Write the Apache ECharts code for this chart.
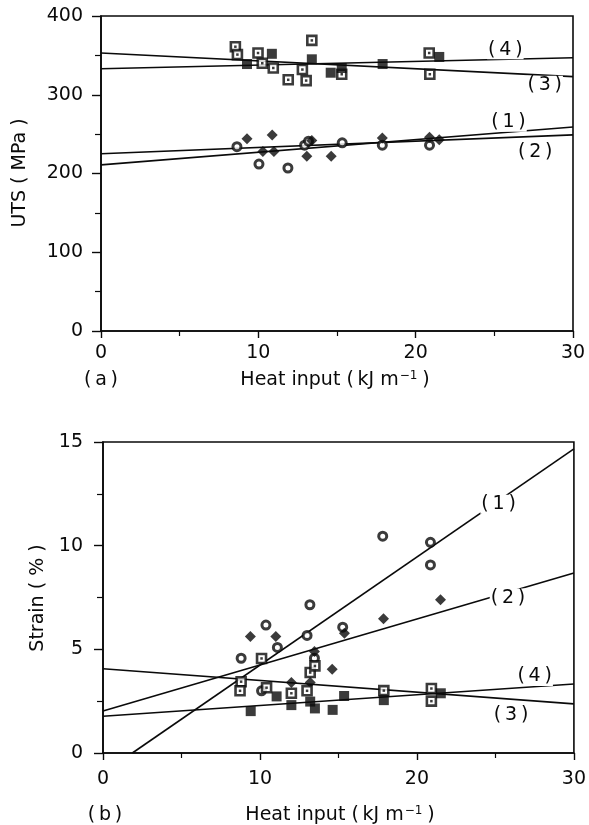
<!DOCTYPE html>
<html>
<head>
<meta charset="utf-8">
<script src="https://cdn.jsdelivr.net/npm/echarts@6/dist/echarts.min.js"></script>
<style>
html,body{margin:0;padding:0;background:#fff;}
#c{width:589px;height:825px;}
</style>
</head>
<body>
<div id="c"></div>
<script>
// ---------- Panel (a): UTS vs heat input ----------
const utsOpenCircle = [[8.64,234],[10.04,212],[11.88,207],[12.94,236],[13.19,241],[15.33,239],[17.88,236],[20.88,236]];
const utsFilledDiamond = [[9.28,244],[10.29,228],[10.88,249],[10.99,228],[13.08,222],[13.4,242],[14.63,222],[17.88,245],[20.88,246],[21.5,243]];
const utsOpenSquare = [[8.54,361],[8.67,351],[9.98,353],[10.25,340],[10.95,334],[11.9,319],[12.8,332],[13.04,318],[13.4,369],[15.3,326],[20.86,353],[20.9,326]];
const utsFilledSquare = [[9.28,339],[10.86,352],[13.4,345],[14.6,328],[15.3,334],[17.9,339],[21.5,348]];
const utsLine1 = [[0,211],[30,259]];
const utsLine2 = [[0,225],[30,249]];
const utsLine3 = [[0,353],[30,323]];
const utsLine4 = [[0,333],[30,347]];
const utsLabels = [[25.9,265,'(\u20091\u2009)'],[27.6,227,'(\u20092\u2009)'],[28.2,312,'(\u20093\u2009)'],[25.7,357,'(\u20094\u2009)']];

// ---------- Panel (b): Strain vs heat input ----------
const strOpenCircle = [[8.8,4.57],[10.1,3.0],[10.38,6.17],[11.11,5.09],[13.0,5.67],[13.18,7.15],[13.47,4.57],[15.27,6.07],[17.82,10.46],[20.86,10.16],[20.86,9.07]];
const strFilledDiamond = [[9.39,5.62],[11.01,5.62],[12.0,3.40],[13.2,3.40],[13.47,4.89],[14.6,4.04],[15.38,5.78],[17.87,6.47],[21.5,7.39]];
const strOpenSquare = [[8.8,3.44],[8.73,3.0],[10.1,4.56],[10.42,3.15],[12.0,2.88],[13.0,3.0],[13.2,3.88],[13.5,4.2],[17.89,3.01],[20.92,3.11],[20.92,2.5]];
const strFilledSquare = [[9.41,2.02],[11.06,2.73],[12.0,2.31],[13.2,2.48],[13.5,2.15],[14.63,2.08],[15.36,2.75],[17.89,2.55],[21.52,2.88]];
const strLine1 = [[1.87,0],[30,14.67]];
const strLine2 = [[0,2.03],[30,8.68]];
const strLine3 = [[0,4.06],[30,2.37]];
const strLine4 = [[0,1.77],[30,3.33]];
const strLabels = [[25.2,12.0,'(\u20091\u2009)'],[25.8,7.47,'(\u20092\u2009)'],[26.0,1.84,'(\u20093\u2009)'],[27.5,3.69,'(\u20094\u2009)']];

const xTicks = [0,10,20,30];
const utsTicks = [0,100,200,300,400];
const strTicks = [0,5,10,15];

const FONT = 'DejaVu Sans, Liberation Sans, Arial, sans-serif';
const FS = 19;
const INK = '#0a0a0a';

function axisX(gridIndex){
  return {
    type:'value', gridIndex, min:0, max:30, interval:10,
    axisLine:{show:true, onZero:false, lineStyle:{color:INK,width:1.6}},
    axisTick:{show:true, inside:false, length:7, lineStyle:{color:INK,width:1.4}},
    minorTick:{show:true, splitNumber:2, length:5, lineStyle:{color:INK,width:1.2}},
    splitLine:{show:false},
    axisLabel:{color:INK, fontFamily:FONT, fontSize:FS, margin: gridIndex===0?13:17}
  };
}
function axisY(gridIndex, max, interval, margin){
  return {
    type:'value', gridIndex, min:0, max, interval,
    axisLine:{show:true, onZero:false, lineStyle:{color:INK,width:1.6}},
    axisTick:{show:true, inside:false, length:9, lineStyle:{color:INK,width:1.4}},
    minorTick:{show:true, splitNumber:2, length:6, lineStyle:{color:INK,width:1.2}},
    splitLine:{show:false},
    axisLabel:{color:INK, fontFamily:FONT, fontSize:FS, margin}
  };
}

function lineSeries(data, gi){
  return {type:'line', xAxisIndex:gi, yAxisIndex:gi, data, symbol:'none', silent:true,
    lineStyle:{color:INK, width:1.6}, z:2};
}
function openCircle(data, gi){
  return {type:'scatter', xAxisIndex:gi, yAxisIndex:gi, data, symbol:'circle', symbolSize:8,
    itemStyle:{color:'#fff', borderColor:INK, borderWidth:3}, z:4};
}
function filledDiamond(data, gi){
  return {type:'scatter', xAxisIndex:gi, yAxisIndex:gi, data, symbol:'diamond', symbolSize:11,
    itemStyle:{color:INK}, z:4};
}
function openSquare(data, gi){
  return [{type:'scatter', xAxisIndex:gi, yAxisIndex:gi, data, symbol:'rect', symbolSize:9,
    itemStyle:{color:'#fff', borderColor:INK, borderWidth:2.6}, z:4},
    {type:'scatter', xAxisIndex:gi, yAxisIndex:gi, data, symbol:'rect', symbolSize:2.5,
    itemStyle:{color:INK}, z:5}];
}
function filledSquare(data, gi){
  return {type:'scatter', xAxisIndex:gi, yAxisIndex:gi, data, symbol:'rect', symbolSize:10,
    itemStyle:{color:INK}, z:4};
}
function labelSeries(list, gi){
  return {type:'scatter', xAxisIndex:gi, yAxisIndex:gi, symbolSize:1, z:6, silent:true,
    itemStyle:{color:'#fff', opacity:1},
    emphasis:{disabled:true},
    data:list.map(d=>({value:[d[0],d[1]], name:d[2]})),
    label:{show:true, position:'inside', formatter:p=>p.name, color:INK, opacity:1, fontFamily:FONT,
      fontSize:FS, backgroundColor:'#fff', padding:[0,1], textBorderWidth:0, textBorderColor:'transparent'}};
}

const titleRich = {
  n:{fontSize:FS, fontFamily:FONT, fill:INK, color:INK},
  s:{fontSize:12, fontFamily:FONT, fill:INK, color:INK, verticalAlign:'top', padding:[0,1,9,1]}
};

const chart = echarts.init(document.getElementById('c'), null, {renderer:'canvas'});
chart.setOption({
  animation:false,
  backgroundColor:'#fff',
  grid:[
    {left:101, top:16, width:472, height:315, show:true, borderColor:INK, borderWidth:1.6, backgroundColor:'transparent'},
    {left:103, top:442, width:474, height:311, show:true, borderColor:INK, borderWidth:1.6, backgroundColor:'transparent'}
  ],
  xAxis:[axisX(0), axisX(1)],
  yAxis:[axisY(0,400,100,18), axisY(1,15,5,20)],
  series:[
    lineSeries(utsLine1,0), lineSeries(utsLine2,0), lineSeries(utsLine3,0), lineSeries(utsLine4,0),
    openCircle(utsOpenCircle,0), filledDiamond(utsFilledDiamond,0),
    ...openSquare(utsOpenSquare,0), filledSquare(utsFilledSquare,0),
    labelSeries(utsLabels,0),
    lineSeries(strLine1,1), lineSeries(strLine2,1), lineSeries(strLine3,1), lineSeries(strLine4,1),
    openCircle(strOpenCircle,1), filledDiamond(strFilledDiamond,1),
    ...openSquare(strOpenSquare,1), filledSquare(strFilledSquare,1),
    labelSeries(strLabels,1)
  ],
  graphic:[
    {type:'text', x:20, y:173, rotation:Math.PI/2, style:{text:'UTS ( MPa )', fill:INK, font:FS+'px '+FONT, textAlign:'center', textVerticalAlign:'middle'}},
    {type:'text', x:38, y:598, rotation:Math.PI/2, style:{text:'Strain ( % )', fill:INK, font:FS+'px '+FONT, textAlign:'center', textVerticalAlign:'middle'}},
    {type:'text', x:101, y:380, style:{text:'(\u2009a\u2009)', fill:INK, font:FS+'px '+FONT, textAlign:'center', textVerticalAlign:'middle'}},
    {type:'text', x:105, y:815, style:{text:'(\u2009b\u2009)', fill:INK, font:FS+'px '+FONT, textAlign:'center', textVerticalAlign:'middle'}},
    {type:'text', x:335, y:380, style:{text:'{n|Heat input (\u2009kJ m}{s|−1}{n|\u2009)}', textAlign:'center', textVerticalAlign:'middle', rich:titleRich}},
    {type:'text', x:340, y:815, style:{text:'{n|Heat input (\u2009kJ m}{s|−1}{n|\u2009)}', textAlign:'center', textVerticalAlign:'middle', rich:titleRich}}
  ]
});
</script>
</body>
</html>
